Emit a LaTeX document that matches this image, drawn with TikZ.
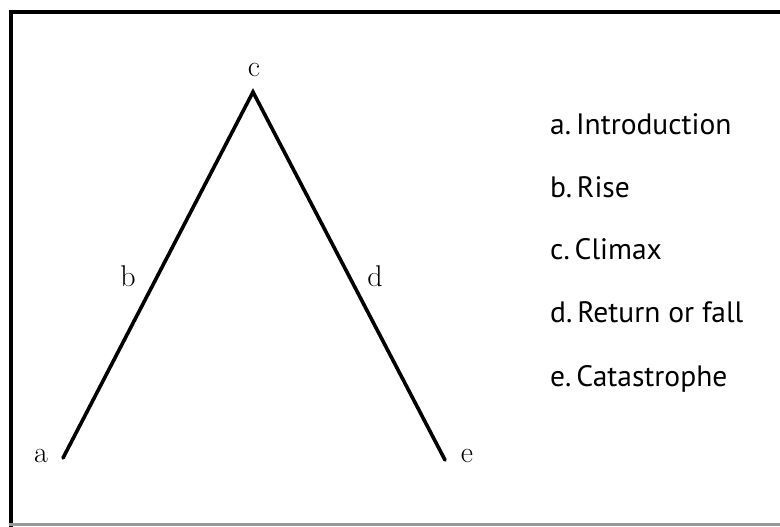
\documentclass[tikz,border=0pt]{standalone}
\usepackage{fontspec}
\newfontfamily\legendfont{PT Sans}
\begin{document}
\begin{tikzpicture}[x=1pt,y=1pt,
  pt/.style={font=\fontsize{30}{30}\selectfont, anchor=base, inner sep=0pt},
  legend/.style={font=\legendfont\fontsize{29.5}{29.5}\selectfont, anchor=base west, inner sep=0pt},
  plot/.style={line width=3.6pt, line cap=round, line join=miter}]
\useasboundingbox (0,0) rectangle (780,527);
% frame
\draw[line width=3.5pt, black] (11,0) -- (11,515) -- (780,515);
\draw[line width=3pt, black!40] (9,2) -- (780,2);
% points
\coordinate (A) at (63,69);
\coordinate (C) at (253,435);
\coordinate (E) at (445,67);
\draw[plot] (A) -- (C) -- (E);
% labels
\node[pt] (la) at (41,64) {a};
\node[pt] (lb) at (128,240) {b};
\node[pt] (lc) at (254,450) {c};
\node[pt] (ld) at (375,240) {d};
\node[pt] (le) at (467,64) {e};
% legend
\node[legend] (ga) at (550,392) {a.\,Introduction};
\node[legend] (gb) at (550,329) {b.\,Rise};
\node[legend] (gc) at (550,267) {c.\,Climax};
\node[legend] (gd) at (550,204) {d.\,Return or fall};
\node[legend] (ge) at (550,140) {e.\,Catastrophe};
\end{tikzpicture}
\end{document}
